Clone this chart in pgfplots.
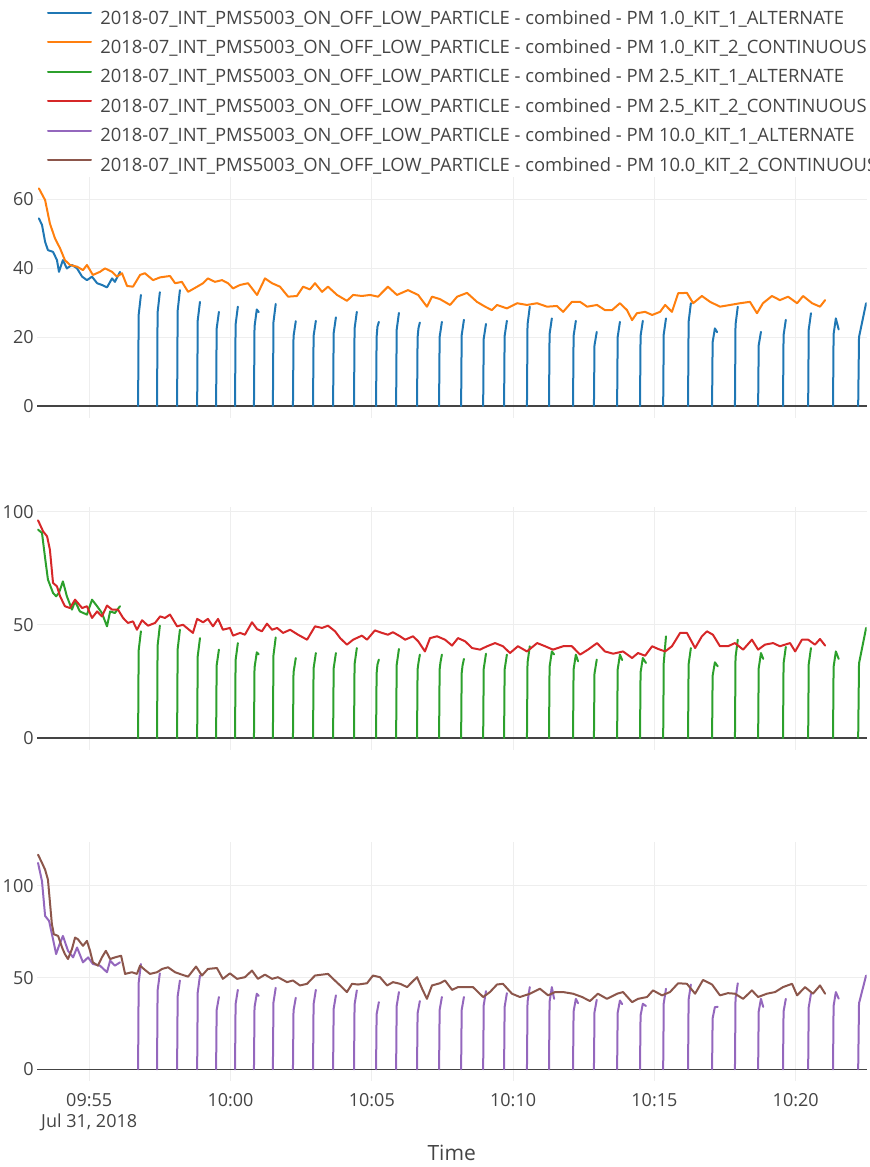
\documentclass[border=0pt]{standalone}
\usepackage{fontspec}
\setmainfont{Open Sans}
\usepackage{pgfplots}
\pgfplotsset{compat=1.18}
\definecolor{c1}{HTML}{1F77B4}
\definecolor{c2}{HTML}{FF7F0E}
\definecolor{c3}{HTML}{2CA02C}
\definecolor{c4}{HTML}{D62728}
\definecolor{c5}{HTML}{9467BD}
\definecolor{c6}{HTML}{8C564B}
\definecolor{txt}{HTML}{444444}
\definecolor{gridc}{HTML}{EEEEEE}
\pgfplotsset{
  base/.style={
    scale only axis, width=414.75pt,
    xmin=53.153, xmax=82.505,
    axis line style={draw=none},
    major tick length=0pt,
    xtick={55,60,65,70,75,80},
    grid=major, major grid style={gridc, line width=0.5pt},
    tick label style={font=\fontsize{9}{10}\selectfont, color=txt},
    /pgf/number format/assume math mode=true,
    yticklabel style={anchor=east, inner sep=0pt, xshift=-1.5pt},
    extra y ticks={0},
    extra y tick style={grid=major, major grid style={color=txt, line width=0.6pt}},
    unbounded coords=jump,
    every axis plot/.append style={line width=1pt, line join=round, line cap=round},
  }
}
\begin{document}
\begin{tikzpicture}
% ---------------- panel 1: PM 1.0
\begin{axis}[base, at={(18.5pt,-209pt)}, anchor=south west, height=120.5pt,
  ymin=-3.48, ymax=66.4, ytick={20,40,60}, xticklabels={},
  legend style={at={(0.01206,1.689)}, anchor=north west, draw=none, fill=none,
    inner sep=0pt, outer sep=0pt, font=\fontsize{9.2}{11}\selectfont, text=txt,
    row sep=6.1pt, nodes={inner sep=0pt, text height=6.6pt, text depth=2pt},
    /tikz/every odd column/.style={column sep=4.2pt}},
  legend cell align=left,
  legend image code/.code={\draw[#1, line width=1pt] (0pt,0.33em) -- (21.5pt,0.33em);},
]
\addplot[c1] table {
x y
53.22 54.4
53.33 52.5
53.44 47.6
53.54 45.2
53.72 44.7
53.86 42.3
53.93 38.9
54.07 42.3
54.21 39.9
54.39 40.9
54.57 39.9
54.75 37.5
54.92 36.5
55.10 37.5
55.28 35.6
55.45 35.1
55.63 34.4
55.81 37.0
55.91 36.0
56.09 38.9
56.10 nan
56.73 0
56.75 26.4
56.83 32.2
56.84 nan
57.40 0
57.42 27.1
57.50 33.0
57.51 nan
58.11 0
58.13 27.6
58.21 33.6
58.22 nan
58.82 0
58.84 24.8
58.92 30.2
58.93 nan
59.49 0
59.51 22.4
59.59 27.3
59.60 nan
60.16 0
60.18 23.6
60.26 28.8
60.27 nan
60.83 0
60.85 23.0
60.93 28.0
61.00 27.2
61.01 nan
61.50 0
61.52 24.3
61.60 29.6
61.61 nan
62.21 0
62.23 20.2
62.31 24.6
62.32 nan
62.92 0
62.94 20.3
63.02 24.7
63.03 nan
63.63 0
63.65 21.1
63.73 25.7
63.74 nan
64.37 0
64.39 22.4
64.47 27.3
64.48 nan
65.15 0
65.17 20.0
65.20 23.0
65.25 24.4
65.26 nan
65.86 0
65.88 22.1
65.96 27.0
65.97 nan
66.60 0
66.62 19.8
66.65 22.5
66.70 24.2
66.71 nan
67.38 0
67.40 20.0
67.48 24.4
67.49 nan
68.16 0
68.18 20.5
68.26 25.0
68.27 nan
68.94 0
68.96 19.5
69.04 23.8
69.05 nan
69.68 0
69.70 20.3
69.78 24.7
69.79 nan
70.49 0
70.51 23.6
70.59 28.8
70.60 nan
71.27 0
71.29 20.8
71.37 25.4
71.38 nan
72.12 0
72.14 20.3
72.22 24.7
72.23 nan
72.86 0
72.88 17.6
72.96 21.5
72.97 nan
73.68 0
73.70 20.0
73.78 24.4
73.79 nan
74.49 0
74.51 20.3
74.59 24.7
74.60 nan
75.31 0
75.33 20.8
75.41 25.4
75.42 nan
76.19 0
76.21 24.4
76.29 29.8
76.30 nan
77.04 0
77.06 18.5
77.14 22.5
77.22 21.4
77.23 nan
77.85 0
77.87 23.6
77.95 28.8
77.96 nan
78.67 0
78.69 17.6
78.77 21.5
78.78 nan
79.55 0
79.57 20.5
79.65 25.0
79.66 nan
80.44 0
80.46 22.1
80.54 26.9
80.55 nan
81.32 0
81.34 20.8
81.42 25.4
81.52 22.2
81.53 nan
82.21 0
82.24 20.0
82.49 29.8
};
\addlegendentry{2018-07\_INT\_PMS5003\_ON\_OFF\_LOW\_PARTICLE - combined - PM 1.0\_KIT\_1\_ALTERNATE}
\addplot[c2] table {
x y
53.22 63.1
53.44 59.7
53.61 52.9
53.79 48.6
53.97 45.7
54.14 42.3
54.32 40.9
54.57 40.4
54.78 39.4
54.92 40.9
55.13 38.0
55.38 38.9
55.56 39.9
55.81 38.9
55.98 37.5
56.16 38.5
56.34 34.8
56.55 34.6
56.80 38.0
56.97 38.5
57.26 36.5
57.51 37.3
57.86 37.7
58.04 35.6
58.28 36.0
58.50 33.1
58.82 34.6
59.03 35.6
59.20 37.0
59.45 36.0
59.70 36.5
59.91 35.6
60.09 34.1
60.34 35.1
60.62 35.6
60.94 32.2
61.22 37.0
61.47 35.6
61.75 34.6
62.04 31.7
62.35 31.9
62.57 34.6
62.81 33.8
62.99 35.6
63.24 33.1
63.45 34.6
63.77 32.2
64.12 30.5
64.34 32.2
64.65 31.9
64.94 32.2
65.22 31.7
65.57 34.6
65.89 32.2
66.28 33.6
66.64 32.2
66.95 28.8
67.13 31.7
67.41 31.0
67.77 29.3
68.02 31.7
68.37 32.8
68.72 30.2
69.01 28.8
69.25 27.8
69.43 29.3
69.78 28.3
70.14 29.8
70.49 29.3
70.85 29.8
71.20 28.8
71.55 29.0
71.77 27.3
72.08 30.2
72.37 30.2
72.62 28.8
72.97 29.3
73.25 27.8
73.50 27.8
73.78 29.8
74.03 27.8
74.21 24.9
74.38 26.9
74.67 27.3
74.92 26.4
75.20 27.3
75.38 29.3
75.62 27.3
75.84 32.7
76.15 32.8
76.37 29.8
76.68 31.9
76.97 30.2
77.32 28.8
77.68 29.3
78.03 29.8
78.38 30.2
78.63 26.9
78.84 29.8
79.16 31.9
79.44 30.7
79.73 31.7
80.05 29.8
80.26 31.9
80.58 29.8
80.86 28.8
81.04 30.7
};
\addlegendentry{2018-07\_INT\_PMS5003\_ON\_OFF\_LOW\_PARTICLE - combined - PM 1.0\_KIT\_2\_CONTINUOUS}
\addlegendimage{c3, line width=1pt}
\addlegendentry{2018-07\_INT\_PMS5003\_ON\_OFF\_LOW\_PARTICLE - combined - PM 2.5\_KIT\_1\_ALTERNATE}
\addlegendimage{c4, line width=1pt}
\addlegendentry{2018-07\_INT\_PMS5003\_ON\_OFF\_LOW\_PARTICLE - combined - PM 2.5\_KIT\_2\_CONTINUOUS}
\addlegendimage{c5, line width=1pt}
\addlegendentry{2018-07\_INT\_PMS5003\_ON\_OFF\_LOW\_PARTICLE - combined - PM 10.0\_KIT\_1\_ALTERNATE}
\addlegendimage{c6, line width=1pt}
\addlegendentry{2018-07\_INT\_PMS5003\_ON\_OFF\_LOW\_PARTICLE - combined - PM 10.0\_KIT\_2\_CONTINUOUS}
\end{axis}
% ---------------- panel 2: PM 2.5
\begin{axis}[base, at={(18.5pt,-375pt)}, anchor=south west, height=121.5pt,
  ymin=-5.31, ymax=102.2, ytick={50,100}, xticklabels={}]
\addplot[c3] table {
x y
53.19 92.2
53.33 90.7
53.44 79.6
53.54 70.1
53.72 64.2
53.83 62.7
53.93 64.2
54.07 69.3
54.21 62.7
54.39 56.8
54.50 60.5
54.67 56.0
54.92 54.6
55.10 61.2
55.28 58.3
55.45 55.3
55.63 49.4
55.74 56.0
55.91 55.3
56.09 58.3
56.10 nan
56.73 0
56.75 38.7
56.83 47.2
56.84 nan
57.40 0
57.42 40.8
57.50 49.7
57.51 nan
58.11 0
58.13 39.3
58.21 47.9
58.22 nan
58.82 0
58.84 36.2
58.92 44.2
58.93 nan
59.49 0
59.51 32.1
59.59 39.1
59.60 nan
60.16 0
60.18 34.4
60.26 42.0
60.27 nan
60.83 0
60.85 31.1
60.93 37.9
61.00 37.0
61.01 nan
61.50 0
61.52 36.5
61.60 44.5
61.61 nan
62.21 0
62.23 29.0
62.31 35.4
62.32 nan
62.92 0
62.94 30.8
63.02 37.6
63.03 nan
63.63 0
63.65 30.8
63.73 37.6
63.74 nan
64.37 0
64.39 32.6
64.47 39.8
64.48 nan
65.15 0
65.17 28.5
65.20 32.5
65.25 34.7
65.26 nan
65.86 0
65.88 32.3
65.96 39.4
65.97 nan
66.60 0
66.62 30.3
66.65 33.2
66.70 36.9
66.71 nan
67.38 0
67.40 30.3
67.43 33.5
67.48 36.9
67.49 nan
68.16 0
68.18 28.7
68.21 32.0
68.26 35.0
68.27 nan
68.94 0
68.96 30.6
69.04 37.3
69.05 nan
69.68 0
69.70 30.3
69.78 36.9
69.79 nan
70.49 0
70.51 33.3
70.59 40.6
70.60 nan
71.27 0
71.29 31.4
71.37 38.3
71.45 37.0
71.46 nan
72.12 0
72.14 30.3
72.22 36.9
72.30 33.9
72.31 nan
72.86 0
72.88 28.5
72.96 34.7
72.97 nan
73.68 0
73.70 30.3
73.78 36.9
73.86 34.5
73.87 nan
74.49 0
74.51 29.0
74.59 35.4
74.70 33.2
74.71 nan
75.31 0
75.33 33.2
75.41 45.0
75.42 nan
76.19 0
76.21 32.6
76.29 39.8
76.30 nan
77.04 0
77.06 27.5
77.14 33.5
77.24 31.7
77.25 nan
77.85 0
77.87 35.7
77.95 43.5
77.96 nan
78.67 0
78.69 30.8
78.77 37.6
78.85 35.0
78.86 nan
79.55 0
79.57 33.0
79.65 40.3
79.66 nan
80.44 0
80.46 32.6
80.54 39.8
80.55 nan
81.32 0
81.34 31.4
81.42 38.3
81.52 35.0
81.53 nan
82.21 0
82.24 33.0
82.49 48.7
};
\addplot[c4] table {
x y
53.19 96.3
53.37 91.4
53.51 89.2
53.61 83.3
53.72 68.6
53.86 67.1
53.97 62.7
54.14 58.3
54.32 57.5
54.50 61.2
54.75 57.5
54.92 58.3
55.10 53.1
55.28 56.0
55.45 53.8
55.63 58.6
55.81 56.8
56.02 56.8
56.20 53.1
56.37 50.9
56.55 51.6
56.69 47.9
56.87 52.1
57.08 49.7
57.33 50.9
57.51 53.8
57.68 53.1
57.86 54.6
58.11 49.4
58.32 50.1
58.67 46.5
58.82 52.7
59.03 51.2
59.20 52.7
59.38 49.4
59.56 52.7
59.73 47.9
59.98 48.7
60.09 45.3
60.34 46.5
60.51 45.7
60.76 51.2
60.94 48.2
61.11 47.2
61.29 50.6
61.47 47.9
61.65 48.7
61.86 46.5
62.11 47.9
62.39 45.7
62.71 43.5
62.99 49.4
63.24 48.7
63.45 49.7
63.70 47.2
63.88 44.2
64.12 41.3
64.34 43.5
64.65 45.3
64.83 43.5
65.11 47.6
65.36 46.5
65.57 45.7
65.75 46.8
66.00 45.0
66.18 43.5
66.46 45.0
66.64 42.8
66.88 38.3
67.06 44.2
67.31 45.0
67.59 43.5
67.84 40.9
68.05 44.2
68.30 42.8
68.55 39.8
68.83 39.1
69.08 40.6
69.36 42.0
69.64 40.6
69.89 37.6
70.17 40.6
70.49 38.3
70.85 42.0
71.13 40.6
71.41 39.1
71.77 40.6
72.08 40.6
72.37 36.9
72.65 39.1
72.97 42.0
73.25 38.3
73.54 37.3
73.89 38.3
74.21 35.4
74.42 37.6
74.67 36.4
74.92 40.6
75.13 39.4
75.38 38.3
75.62 40.6
75.91 46.5
76.15 46.5
76.44 39.8
76.68 45.0
76.86 47.2
77.07 45.7
77.32 40.6
77.60 40.6
77.85 42.0
78.14 39.1
78.45 43.5
78.67 39.1
78.91 41.3
79.20 42.0
79.44 40.6
79.80 42.0
79.98 38.3
80.22 43.5
80.44 43.5
80.68 41.3
80.86 43.8
81.04 40.9
};
\end{axis}
% ---------------- panel 3: PM 10.0
\begin{axis}[base, at={(18.5pt,-540.5pt)}, anchor=south west, height=119.5pt,
  ymin=-6.4, ymax=123.9, ytick={50,100},
  xticklabels={{09:55\\[-2.2pt]Jul 31, 2018},{10:00},{10:05},{10:10},{10:15},{10:20}},
  xticklabel style={align=center, anchor=north, inner sep=0pt, yshift=-6pt, font=\fontsize{9}{12.5}\selectfont},
  xlabel={Time}, xlabel style={at={(axis description cs:0.5,0)}, anchor=center, yshift=-36pt, font=\fontsize{10.5}{12}\selectfont, color=txt},
]
\addplot[c5] table {
x y
53.19 112.5
53.33 102.5
53.44 83.6
53.58 80.9
53.72 70.9
53.83 62.8
53.93 67.3
54.07 72.7
54.25 64.6
54.43 61.0
54.57 66.4
54.78 58.3
54.96 61.0
55.13 57.4
55.38 56.5
55.63 52.9
55.74 59.2
55.91 56.5
56.09 58.3
56.10 nan
56.73 0
56.75 47.1
56.83 57.4
56.84 nan
57.40 0
57.42 42.9
57.50 52.3
57.51 nan
58.11 0
58.13 39.7
58.21 48.4
58.22 nan
58.82 0
58.84 41.9
58.92 51.1
58.93 nan
59.49 0
59.51 32.3
59.59 39.4
59.60 nan
60.16 0
60.18 35.5
60.26 43.3
60.27 nan
60.83 0
60.85 33.8
60.93 41.2
61.00 40.0
61.01 nan
61.50 0
61.52 36.4
61.60 44.4
61.61 nan
62.21 0
62.23 32.0
62.31 39.0
62.32 nan
62.92 0
62.94 35.5
63.02 43.3
63.03 nan
63.63 0
63.65 33.0
63.73 40.3
63.74 nan
64.37 0
64.39 35.3
64.47 43.0
64.48 nan
65.15 0
65.17 30.0
65.25 36.6
65.26 nan
65.86 0
65.88 34.5
65.96 42.1
65.97 nan
66.60 0
66.62 30.5
66.70 37.2
66.71 nan
67.38 0
67.40 32.3
67.48 39.4
67.49 nan
68.16 0
68.18 32.3
68.26 39.4
68.27 nan
68.94 0
68.96 34.9
69.04 42.6
69.05 nan
69.68 0
69.70 34.0
69.78 41.5
69.79 nan
70.49 0
70.51 36.7
70.59 44.8
70.60 nan
71.27 0
71.29 36.7
71.37 44.8
71.45 38.4
71.46 nan
72.12 0
72.14 31.5
72.22 38.4
72.30 36.0
72.31 nan
72.86 0
72.88 31.1
72.96 37.9
72.97 nan
73.68 0
73.70 30.8
73.78 37.5
73.86 35.5
73.87 nan
74.49 0
74.51 29.3
74.59 35.7
74.70 34.5
74.71 nan
75.31 0
75.33 36.0
75.41 43.9
75.42 nan
76.19 0
76.21 37.9
76.29 46.2
76.30 nan
77.04 0
77.06 27.8
77.14 33.9
77.24 34.0
77.25 nan
77.85 0
77.87 38.5
77.95 46.9
77.96 nan
78.67 0
78.69 31.5
78.77 38.4
78.85 34.0
78.86 nan
79.55 0
79.57 31.5
79.65 38.4
79.66 nan
80.44 0
80.46 33.8
80.54 41.2
80.55 nan
81.32 0
81.34 34.5
81.42 42.1
81.52 38.5
81.53 nan
82.21 0
82.24 36.0
82.49 51.1
};
\addplot[c6] table {
x y
53.19 117.0
53.33 112.5
53.44 108.8
53.54 103.4
53.68 79.1
53.75 73.6
53.90 72.7
54.04 66.4
54.14 62.8
54.25 60.1
54.39 65.5
54.50 71.8
54.60 70.9
54.78 67.3
54.92 70.0
55.03 64.6
55.13 58.3
55.31 56.5
55.45 61.0
55.59 64.6
55.74 60.1
55.91 61.0
56.13 61.9
56.27 52.0
56.51 52.9
56.69 52.0
56.80 56.5
56.97 54.2
57.15 52.0
57.40 52.9
57.58 54.7
57.79 55.6
58.04 52.9
58.28 51.6
58.50 50.5
58.78 56.0
58.99 51.1
59.20 54.7
59.52 55.2
59.73 49.3
59.98 52.3
60.23 49.3
60.51 50.2
60.76 53.8
60.97 49.3
61.22 51.6
61.47 49.3
61.68 50.2
62.00 47.5
62.21 48.4
62.46 45.7
62.71 46.6
62.99 51.1
63.24 51.6
63.45 52.0
63.63 49.3
63.88 45.7
64.12 42.1
64.30 46.6
64.51 46.2
64.83 46.9
65.04 51.1
65.29 50.2
65.54 45.7
65.75 47.5
66.00 46.6
66.25 44.8
66.42 47.5
66.60 50.2
66.78 43.9
66.95 38.4
67.13 45.7
67.41 46.9
67.59 48.4
67.84 43.3
68.05 44.8
68.37 44.8
68.58 44.8
68.94 39.4
69.18 42.1
69.43 46.2
69.64 46.6
69.96 41.2
70.24 39.4
70.60 41.2
70.95 43.9
71.24 40.3
71.48 42.1
71.77 42.1
72.12 41.2
72.44 39.4
72.72 37.2
73.00 41.2
73.32 38.4
73.68 41.2
73.89 42.1
74.21 36.6
74.42 38.4
74.74 39.4
74.95 43.0
75.27 40.3
75.55 42.1
75.84 46.9
76.15 46.6
76.44 41.2
76.72 48.7
77.04 46.2
77.32 40.3
77.60 41.5
77.85 41.2
78.14 38.4
78.45 43.0
78.67 39.4
78.98 41.2
79.27 42.1
79.55 44.8
79.87 46.6
80.05 40.3
80.33 44.8
80.61 41.2
80.86 45.7
81.04 41.2
};
\end{axis}
\pgfresetboundingbox
\path[use as bounding box] (0pt,0pt) rectangle (435pt,-583.5pt);
\end{tikzpicture}
\end{document}
